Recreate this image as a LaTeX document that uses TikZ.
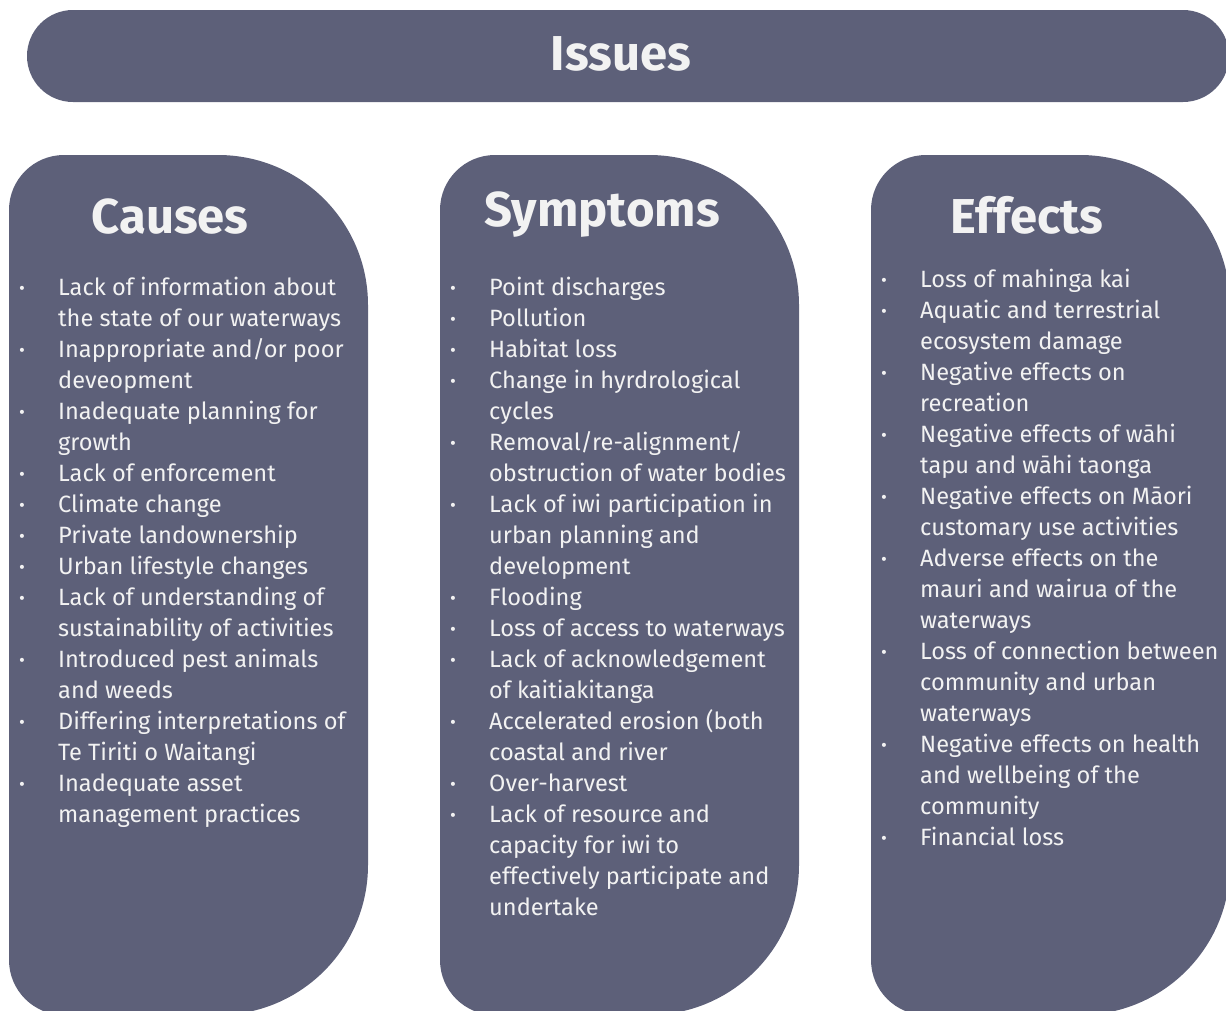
\documentclass[tikz,border=0pt]{standalone}
\usepackage{fontspec}
\setmainfont{Fira Sans}
\usepackage{array}
\definecolor{slate}{HTML}{5D6079}
\definecolor{chalk}{HTML}{F2F2F2}
\newcommand{\bul}{\raisebox{1pt}{\fontsize{18}{18}\selectfont\textbullet}}
\tikzset{
  panel/.style={fill=slate},
  heading/.style={text=chalk, font=\fontsize{49}{54}\selectfont\bfseries, inner sep=0pt, anchor=base},
  itemlist/.style={text=chalk, font=\fontsize{23.6}{31}\selectfont, inner sep=0pt, anchor=base west},
}
\begin{document}
\begin{tikzpicture}[x=1pt,y=1pt]
  \useasboundingbox (0,0) rectangle (1226,-1010);
  \clip (0,0) rectangle (1226,-1010);
  % banner
  \fill[panel, rounded corners=46pt] (27,-10) rectangle (1229,-102);
  % the three columns
  \foreach \l in {9,440,871}{
    \fill[panel] (\l,-210) arc[start angle=180, end angle=90, radius=55pt]
      -- (\l+209,-155) arc[start angle=90, end angle=0, radius=150pt]
      -- (\l+359,-865) arc[start angle=0, end angle=-90, radius=150pt]
      -- (\l+55,-1015) arc[start angle=270, end angle=180, radius=55pt] -- cycle;
  }
  % headings
  \node[heading] (issues) at (621,-70) {Issues};
  \node[heading] (causes) at (170,-233) {Causes};
  \node[heading] (symptoms) at (602,-226) {Symptoms};
  \node[heading] (effects) at (1027,-233) {Effects};
  % lists
  \node[itemlist] (causeslist) at (19,-295) {\begin{tabular}[t]{@{}p{39pt}@{}l@{}}
    \bul & Lack of information about\\
         & the state of our waterways\\
    \bul & Inappropriate and/or poor\\
         & deveopment\\
    \bul & Inadequate planning for\\
         & growth\\
    \bul & Lack of enforcement\\
    \bul & Climate change\\
    \bul & Private landownership\\
    \bul & Urban lifestyle changes\\
    \bul & Lack of understanding of\\
         & sustainability of activities\\
    \bul & Introduced pest animals\\
         & and weeds\\
    \bul & Differing interpretations of\\
         & Te Tiriti o Waitangi\\
    \bul & Inadequate asset\\
         & management practices
  \end{tabular}};
  \node[itemlist] (symptomslist) at (450,-295) {\begin{tabular}[t]{@{}p{39pt}@{}l@{}}
    \bul & Point discharges\\
    \bul & Pollution\\
    \bul & Habitat loss\\
    \bul & Change in hyrdrological\\
         & cycles\\
    \bul & Removal/re-alignment/\\
         & obstruction of water bodies\\
    \bul & Lack of iwi participation in\\
         & urban planning and\\
         & development\\
    \bul & Flooding\\
    \bul & Loss of access to waterways\\
    \bul & Lack of acknowledgement\\
         & of kaitiakitanga\\
    \bul & Accelerated erosion (both\\
         & coastal and river\\
    \bul & Over-harvest\\
    \bul & Lack of resource and\\
         & capacity for iwi to\\
         & effectively participate and\\
         & undertake
  \end{tabular}};
  \node[itemlist] (effectslist) at (881,-287) {\begin{tabular}[t]{@{}p{39pt}@{}l@{}}
    \bul & Loss of mahinga kai\\
    \bul & Aquatic and terrestrial\\
         & ecosystem damage\\
    \bul & Negative effects on\\
         & recreation\\
    \bul & Negative effects of wāhi\\
         & tapu and wāhi taonga\\
    \bul & Negative effects on Māori\\
         & customary use activities\\
    \bul & Adverse effects on the\\
         & mauri and wairua of the\\
         & waterways\\
    \bul & Loss of connection between\\
         & community and urban\\
         & waterways\\
    \bul & Negative effects on health\\
         & and wellbeing of the\\
         & community\\
    \bul & Financial loss
  \end{tabular}};
\end{tikzpicture}
\end{document}
